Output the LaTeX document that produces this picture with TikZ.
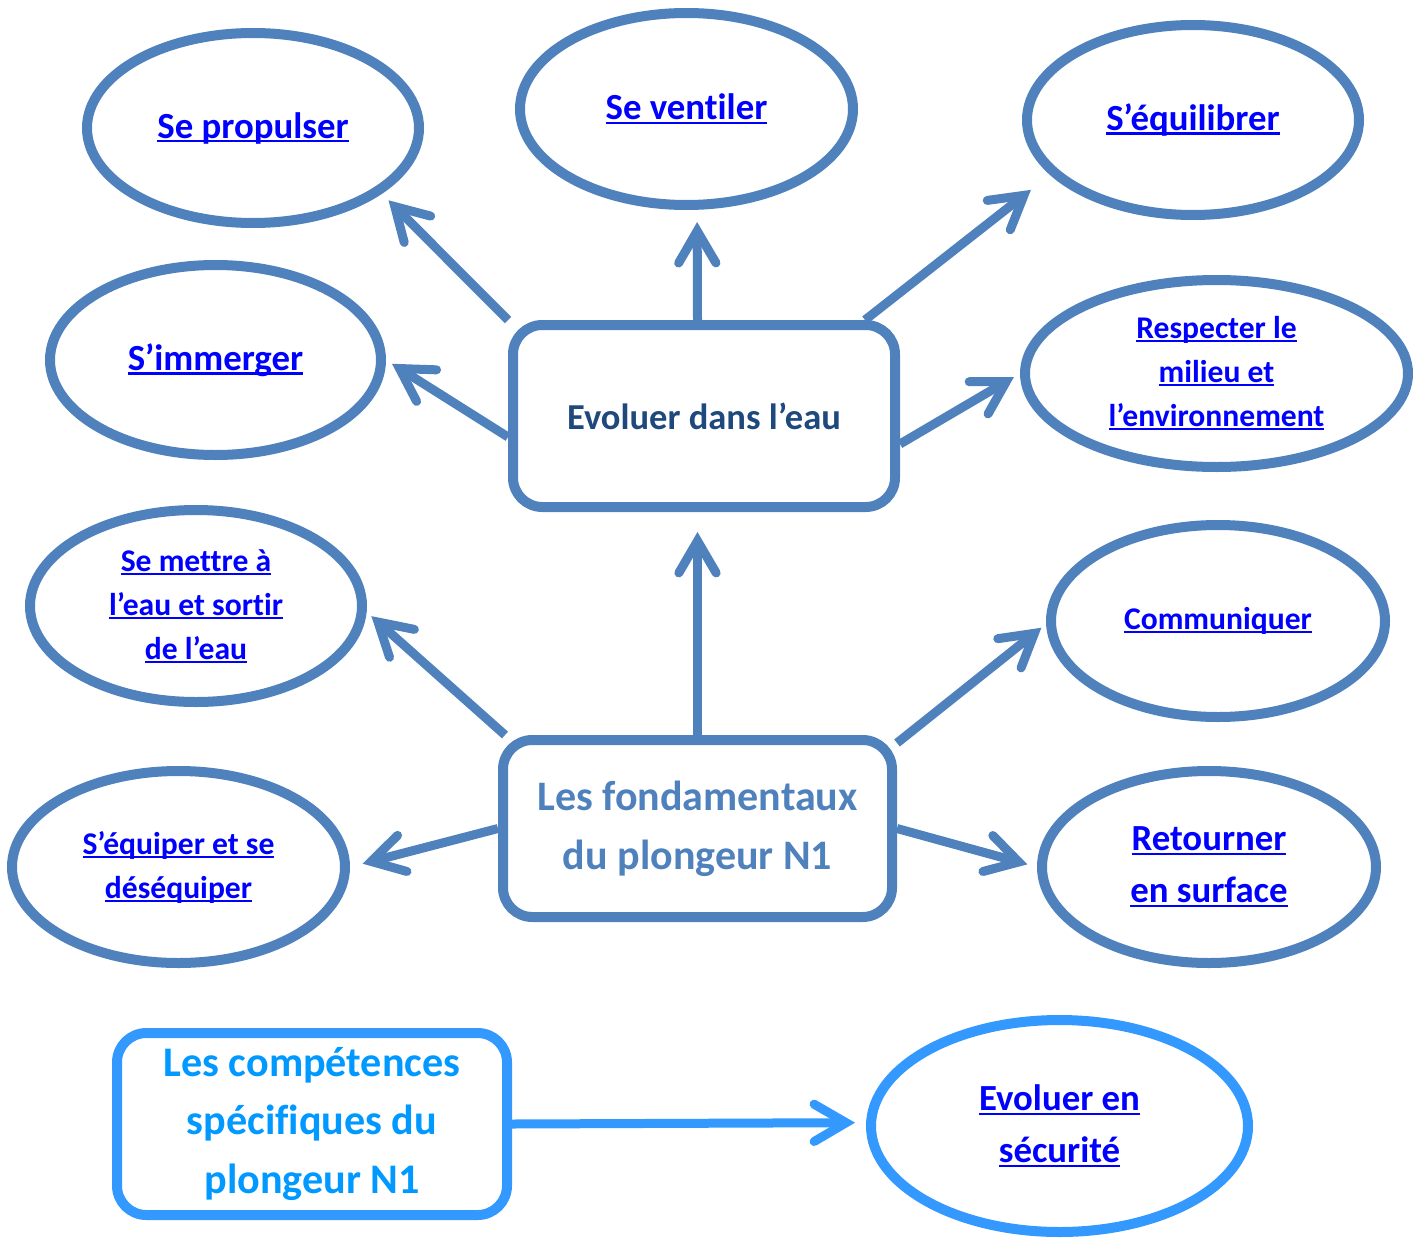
\documentclass[tikz,border=0pt]{standalone}
\usepackage{fontspec}
\setmainfont{Carlito}[Ligatures={NoCommon,NoRare,NoDiscretionary}]
\usetikzlibrary{shapes.geometric,arrows.meta,calc,backgrounds,shadows}
\definecolor{sblue}{RGB}{79,129,189}
\definecolor{dnavy}{RGB}{31,73,125}
\definecolor{lblue}{RGB}{51,153,255}
\definecolor{ltext}{RGB}{0,153,255}
\definecolor{linkb}{RGB}{0,0,255}
\newcommand\lk[1]{\setbox0=\hbox{#1}\rlap{\rule[-0.12em]{\wd0}{0.07em}}\box0}
\begin{document}
\begin{tikzpicture}[x=0.75pt,y=-0.75pt,
  shd/.style={drop shadow={opacity=0.18,shadow xshift=1.5pt,shadow yshift=-2.5pt}},
  ell/.style={ellipse,draw=sblue,line width=7.5pt,fill=white,inner sep=0pt,align=center,text=linkb,shd},
  bigf/.style={font=\bfseries\fontsize{27.6}{39}\selectfont},
  smallf/.style={font=\bfseries\fontsize{23.7}{33}\selectfont},
  bx/.style={rectangle,rounded corners=22pt,draw=sblue,line width=7.5pt,fill=white,align=center,inner sep=0pt,shd},
  conn/.style={sblue,line width=6.75pt,-{Straight Barb[length=24pt,width=28pt,line cap=round,line join=miter]}}
]
\useasboundingbox (0,0) rectangle (1413,1238);

% ellipses
\node[ell,bigf,minimum width=249pt,minimum height=142.5pt] (e1) at (253,128) {\lk{Se propulser}};
\node[ell,bigf,minimum width=249.75pt,minimum height=144pt] (e2) at (686.5,109) {\lk{Se ventiler}};
\node[ell,bigf,minimum width=249pt,minimum height=142.5pt] (e3) at (1193,120) {\lk{S’équilibrer}};
\node[ell,bigf,minimum width=248.25pt,minimum height=142.5pt] (e4) at (215.5,360) {\lk{S’immerger}};
\node[ell,smallf,minimum width=287.25pt,minimum height=140.25pt] (e5) at (1216.5,373.5) {\lk{Respecter le}\\\lk{milieu et}\\\lk{l’environnement}};
\node[ell,smallf,minimum width=249pt,minimum height=144pt] (e6) at (196,606) {\lk{Se mettre à}\\\lk{l’eau et sortir}\\\lk{de l’eau}};
\node[ell,smallf,minimum width=250.5pt,minimum height=144pt] (e7) at (1218,621) {\lk{Communiquer}};
\node[ell,smallf,minimum width=249.75pt,minimum height=144pt] (e8) at (178.5,867) {\lk{S’équiper et se}\\\lk{déséquiper}};
\node[ell,bigf,minimum width=250.5pt,minimum height=144pt] (e9) at (1209,867) {\lk{Retourner}\\\lk{en surface}};
\node[ell,bigf,draw=lblue,minimum width=282.75pt,minimum height=159pt] (e10) at (1059.5,1126) {\lk{Evoluer en}\\\lk{sécurité}};

% boxes
\node[bx,minimum width=286.5pt,minimum height=136.5pt,text=dnavy,font=\bfseries\fontsize{27.4}{38}\selectfont] (b1) at (704,416) {Evoluer dans l’eau};
\node[bx,minimum width=291.75pt,minimum height=132.75pt,text=sblue,font=\bfseries\fontsize{31.5}{44}\selectfont] (b2) at (697.5,828.5) {Les fondamentaux\\du plongeur N1};
\node[bx,draw=lblue,minimum width=292.5pt,minimum height=136.5pt,text=ltext,font=\bfseries\fontsize{31.6}{44}\selectfont] (b3) at (312,1124) {Les compétences\\spécifiques du\\plongeur N1};

% connectors
\begin{pgfonlayer}{background}
\draw[conn,shorten >=7pt] (b1.north west) -- (e1.-27.96);
\draw[conn,shorten >=9.2pt] (b2.north |- b1.north) -- (e2.-84.45);
\draw[conn,shorten >=18.2pt] ($(b1.north east)+(-35,0)$) -- (e3.-159.25);
\draw[conn,shorten >=5.3pt] ($(b1.west)+(0,21)$) -- (e4.-0.66);
\draw[conn,shorten >=5.3pt] ($(b1.east)+(0,28)$) -- (e5.180);
\draw[conn,shorten >=15pt] (b2.north) -- (b2.north |- b1.south);
\draw[conn,shorten >=4.7pt] ($(b2.north west)+(7,0)$) -- (e6.-2);
\draw[conn,shorten >=4.5pt] ($(b2.north east)+(0,8)$) -- (e7.181.3);
\draw[conn,shorten >=9.8pt] (b2.west) -- (e8.0.3);
\draw[conn,shorten >=7.5pt] (b2.east) -- (e9.180);
\draw[conn,lblue,shorten >=8.3pt] (b3.east) -- (e10.179.1);
\end{pgfonlayer}
\end{tikzpicture}
\end{document}
